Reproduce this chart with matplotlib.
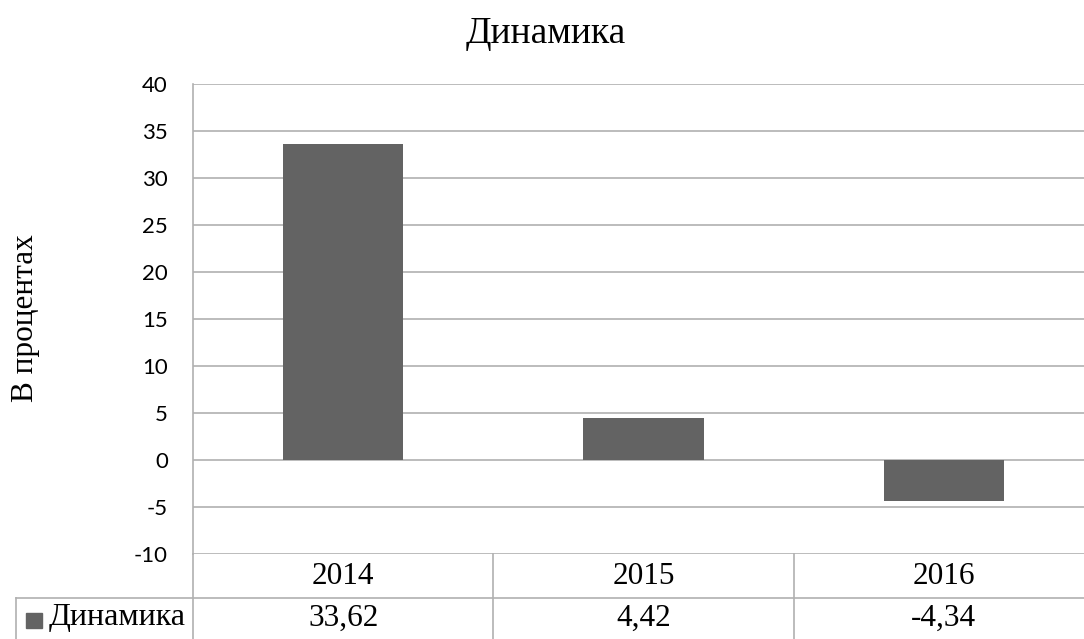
import matplotlib.pyplot as plt
import numpy as np

# yearly change, percent
years = ['2014', '2015', '2016']
dynamics = [33.62, 4.42, -4.34]
series_name = 'Динамика'
y_ticks = [-10, -5, 0, 5, 10, 15, 20, 25, 30, 35, 40]

W, H = 1084, 639
bar_color = '#636363'
grid_color = '#b0b0b0'
serif = ['Liberation Serif', 'DejaVu Serif']

fig = plt.figure(figsize=(W / 100, H / 100), dpi=100)

# plot area in pixel units (extends a little past the right edge)
left, right, top, bottom = 193, 1094, 84, 554
ax = fig.add_axes([left / W, (H - bottom) / H, (right - left) / W, (bottom - top) / H])

x = np.arange(len(years))
ax.bar(x, dynamics, width=0.4, color=bar_color, zorder=3)
ax.set_xlim(-0.5, len(years) - 0.5)
ax.set_ylim(-10, 40)
ax.set_yticks(y_ticks)
ax.set_yticklabels([str(t) for t in y_ticks], family=['Lato', 'DejaVu Sans'], fontsize=16)
ax.set_xticks([])
ax.yaxis.grid(True, color=grid_color, linewidth=1.2, zorder=0)
ax.tick_params(axis='y', length=0, pad=18)
for side in ('top', 'right', 'bottom'):
    ax.spines[side].set_visible(False)
ax.spines['left'].set_color(grid_color)
ax.spines['left'].set_linewidth(1.2)

fig.text(546 / W, 1 - 34 / H, series_name, ha='center', va='center',
         family=serif, fontsize=27)
fig.text(26 / W, 1 - 318 / H, 'В процентах', ha='center', va='center',
         rotation=90, family=serif, fontsize=22.5)

# data table under the plot
row1_bottom = 598
lc = dict(color=grid_color, linewidth=1.2, clip_on=False)
fig.add_artist(plt.Line2D([16 / W, 1], [1 - row1_bottom / H] * 2,
                          transform=fig.transFigure, **lc))
fig.add_artist(plt.Line2D([16 / W, 16 / W], [1 - row1_bottom / H, 0],
                          transform=fig.transFigure, **lc))
fig.add_artist(plt.Line2D([left / W, left / W], [1 - bottom / H, 0],
                          transform=fig.transFigure, **lc))
for i in range(1, len(years)):
    bx = ax.transData.transform((i - 0.5, 0))[0] / W
    fig.add_artist(plt.Line2D([bx, bx], [1 - bottom / H, 0],
                              transform=fig.transFigure, **lc))

for i, (yr, val) in enumerate(zip(years, dynamics)):
    cx = ax.transData.transform((i, 0))[0] / W
    fig.text(cx, 1 - 576 / H, yr, ha='center', va='center',
             family=serif, fontsize=22.5)
    fig.text(cx, 1 - 618 / H, f'{val:.2f}'.replace('.', ','), ha='center',
             va='center', family=serif, fontsize=22.5)

# legend key in the table's row header
fig.add_artist(plt.Rectangle((26 / W, 1 - 628 / H), 16 / W, 15 / H,
                             transform=fig.transFigure, color=bar_color))
fig.text(49 / W, 1 - 618 / H, series_name, ha='left', va='center',
         family=serif, fontsize=23)

fig.savefig('out.png', dpi=100)
